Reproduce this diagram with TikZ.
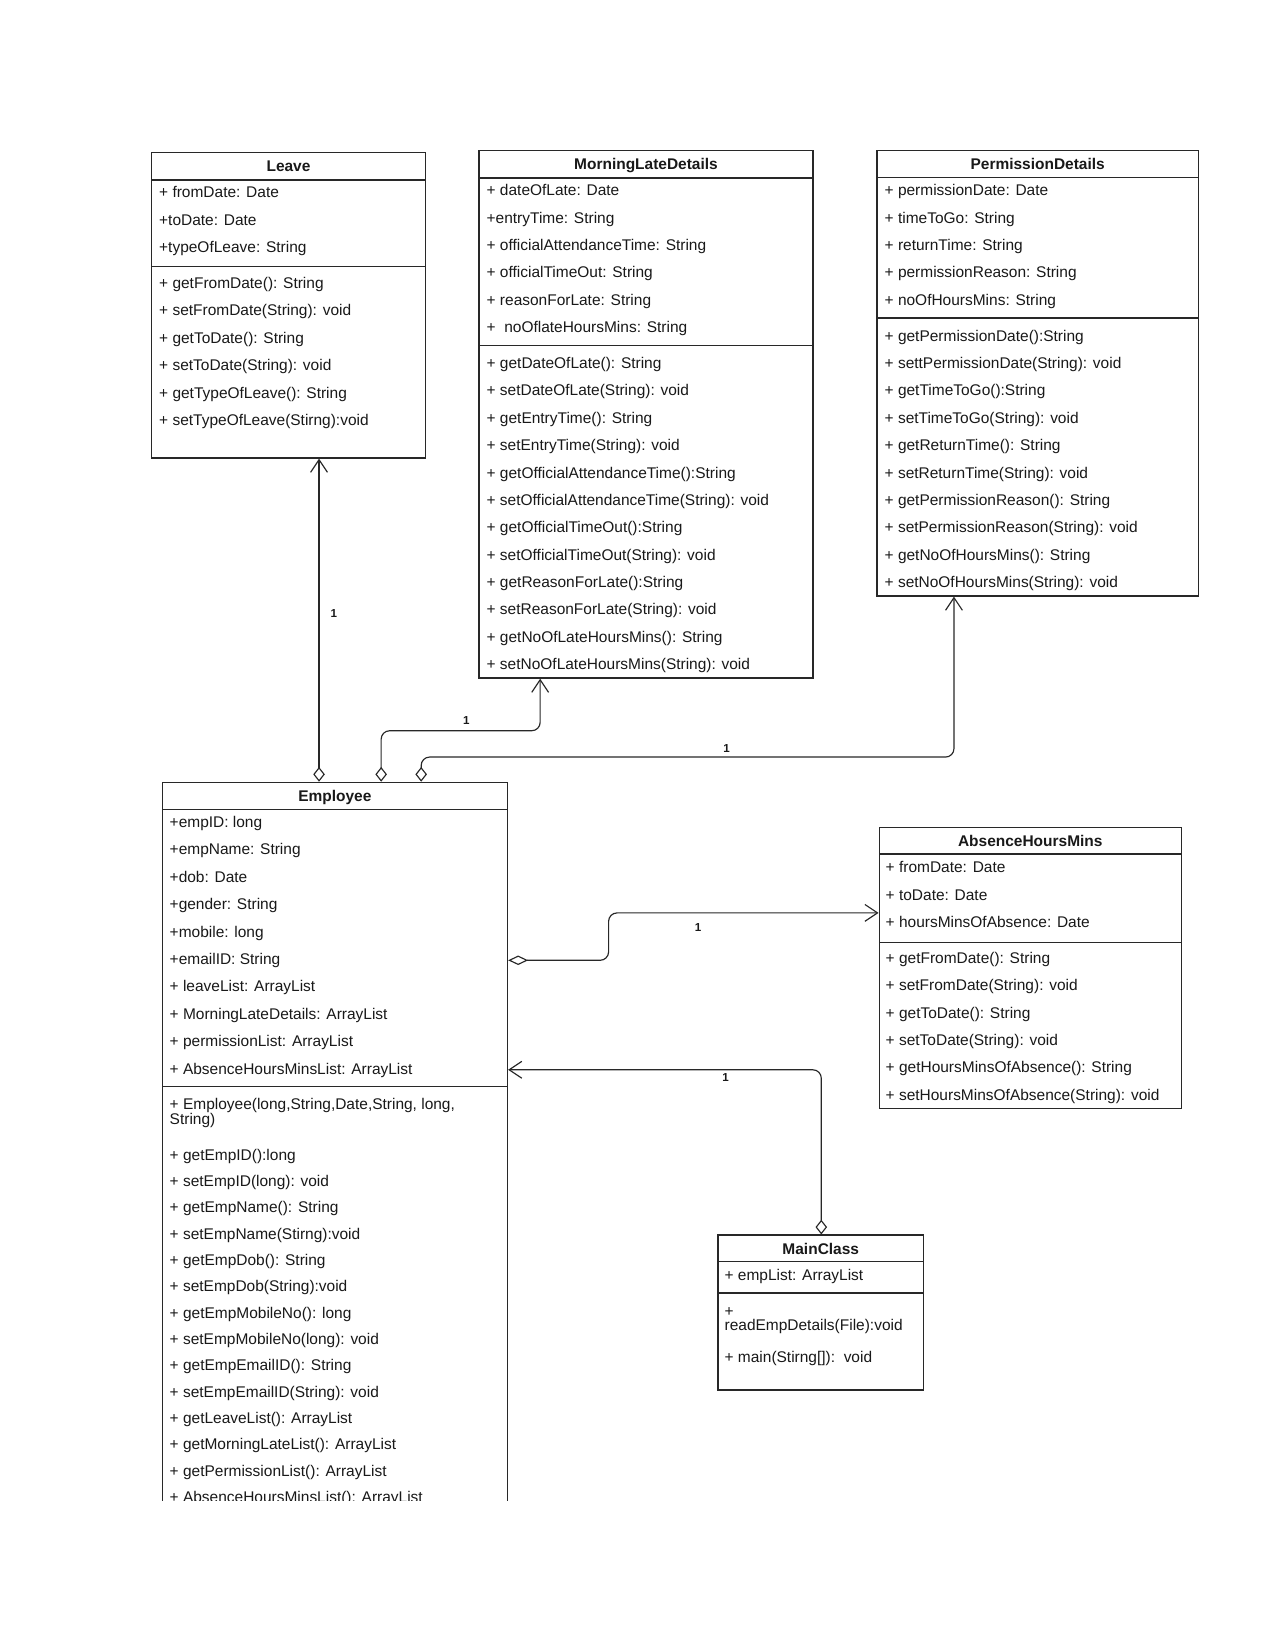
\documentclass[tikz,border=0pt]{standalone}
\usepackage{fontspec}
\setmainfont{Liberation Sans}
\usetikzlibrary{arrows.meta, positioning}
\definecolor{umlline}{RGB}{40,40,40}
\definecolor{umltext}{RGB}{25,25,25}

\begin{document}
\begin{tikzpicture}[x=1pt, y=-1pt,
  every node/.style={font=\fontsize{14.7}{17}\selectfont, text=umltext, inner sep=0pt},
  classbox/.style={draw=umlline, line width=1.2pt, fill=white},
  divider/.style={draw=umlline, line width=1.2pt},
  classtitle/.style={font=\fontsize{14.7}{17}\selectfont\bfseries, anchor=base},
  member/.style={anchor=base west},
  mult/.style={font=\fontsize{11}{13}\selectfont\bfseries, anchor=base},
  assoc/.style={draw=umlline, line width=1.1pt, rounded corners=8pt,
    {Diamond[open, length=14pt, width=11pt]}-{Straight Barb[length=12pt, width=16pt]}},
  flatdiamond/.style={{Diamond[open, length=19pt, width=9pt]}-{Straight Barb[length=12pt, width=16pt]}}]
  % Page
  \useasboundingbox (0,0) rectangle (1211,1568);
  \fill[white] (0,0) rectangle (1211,1568);
  % Leave
  \node[classbox, minimum width=260pt, minimum height=290pt] (leave) at (274,290) {};
  \draw[divider] (144,171) -- (404,171);
  \draw[divider] (144,253) -- (404,253);
  \node[classtitle] (leave-name) at (274,163) {Leave};
  \foreach \t [count=\i from 0] in {{+ fromDate: Date}, {+toDate: Date}, {+typeOfLeave: String}}
    \node[member] (leave-a\i) at (151, 188+26*\i) {\t};
  \foreach \t [count=\i from 0] in {{+ getFromDate(): String}, {+ setFromDate(String): void},
      {+ getToDate(): String}, {+ setToDate(String): void}, {+ getTypeOfLeave(): String},
      {+ setTypeOfLeave(Stirng):void}}
    \node[member] (leave-m\i) at (151, 274+26*\i) {\t};
  % MorningLateDetails
  \node[classbox, minimum width=317pt, minimum height=501pt] (mld) at (613.5,393.5) {};
  \draw[divider] (455,169) -- (772,169);
  \draw[divider] (455,328) -- (772,328);
  \node[classtitle] (mld-name) at (613.5,161) {MorningLateDetails};
  \foreach \t [count=\i from 0] in {{+ dateOfLate: Date}, {+entryTime: String},
      {+ officialAttendanceTime: String}, {+ officialTimeOut: String},
      {+ reasonForLate: String}, {+\ \ noOflateHoursMins: String}}
    \node[member] (mld-a\i) at (462, 186+26*\i) {\t};
  \foreach \t [count=\i from 0] in {{+ getDateOfLate(): String}, {+ setDateOfLate(String): void},
      {+ getEntryTime(): String}, {+ setEntryTime(String): void},
      {+ getOfficialAttendanceTime():String}, {+ setOfficialAttendanceTime(String): void},
      {+ getOfficialTimeOut():String}, {+ setOfficialTimeOut(String): void},
      {+ getReasonForLate():String}, {+ setReasonForLate(String): void},
      {+ getNoOfLateHoursMins(): String}, {+ setNoOfLateHoursMins(String): void}}
    \node[member] (mld-m\i) at (462, 350+26*\i) {\t};
  % PermissionDetails
  \node[classbox, minimum width=305pt, minimum height=423pt] (pd) at (985.5,354.5) {};
  \draw[divider] (833,168.5) -- (1138,168.5);
  \draw[divider] (833,302) -- (1138,302);
  \node[classtitle] (pd-name) at (985.5,161) {PermissionDetails};
  \foreach \t [count=\i from 0] in {{+ permissionDate: Date}, {+ timeToGo: String},
      {+ returnTime: String}, {+ permissionReason: String}, {+ noOfHoursMins: String}}
    \node[member] (pd-a\i) at (840, 186+26*\i) {\t};
  \foreach \t [count=\i from 0] in {{+ getPermissionDate():String}, {+ settPermissionDate(String): void},
      {+ getTimeToGo():String}, {+ setTimeToGo(String): void},
      {+ getReturnTime(): String}, {+ setReturnTime(String): void},
      {+ getPermissionReason(): String}, {+ setPermissionReason(String): void},
      {+ getNoOfHoursMins(): String}, {+ setNoOfHoursMins(String): void}}
    \node[member] (pd-m\i) at (840, 324+26*\i) {\t};
  % Employee (cut off at the page bottom)
  \begin{scope}
    \clip (0,0) rectangle (1211,1425);
    \node[classbox, minimum width=328pt, minimum height=757pt] (emp) at (318,1121.5) {};
    \draw[divider] (154,769) -- (482,769);
    \draw[divider] (154,1032) -- (482,1032);
    \node[classtitle] (emp-name) at (318,761) {Employee};
    \foreach \t [count=\i from 0] in {{+empID: long}, {+empName: String}, {+dob: Date},
        {+gender: String}, {+mobile: long}, {+emailID: String}, {+ leaveList: ArrayList},
        {+ MorningLateDetails: ArrayList}, {+ permissionList: ArrayList},
        {+ AbsenceHoursMinsList: ArrayList}}
      \node[member] (emp-a\i) at (161, 786+26*\i) {\t};
    \node[member] (emp-c0) at (161,1054) {+ Employee(long,String,Date,String, long,};
    \node[member] (emp-c1) at (161,1068) {String)};
    \foreach \t [count=\i from 0] in {{+ getEmpID():long}, {+ setEmpID(long): void},
        {+ getEmpName(): String}, {+ setEmpName(Stirng):void},
        {+ getEmpDob(): String}, {+ setEmpDob(String):void},
        {+ getEmpMobileNo(): long}, {+ setEmpMobileNo(long): void},
        {+ getEmpEmailID(): String}, {+ setEmpEmailID(String): void},
        {+ getLeaveList(): ArrayList}, {+ getMorningLateList(): ArrayList},
        {+ getPermissionList(): ArrayList}, {+ AbsenceHoursMinsList(): ArrayList}}
      \node[member] (emp-m\i) at (161, 1102+25*\i) {\t};
  \end{scope}
  % AbsenceHoursMins
  \node[classbox, minimum width=287pt, minimum height=267pt] (ahm) at (978.5,919.5) {};
  \draw[divider] (835,811) -- (1122,811);
  \draw[divider] (835,895) -- (1122,895);
  \node[classtitle] (ahm-name) at (978.5,804) {AbsenceHoursMins};
  \foreach \t [count=\i from 0] in {{+ fromDate: Date}, {+ toDate: Date}, {+ hoursMinsOfAbsence: Date}}
    \node[member] (ahm-a\i) at (841, 829+26*\i) {\t};
  \foreach \t [count=\i from 0] in {{+ getFromDate(): String}, {+ setFromDate(String): void},
      {+ getToDate(): String}, {+ setToDate(String): void},
      {+ getHoursMinsOfAbsence(): String}, {+ setHoursMinsOfAbsence(String): void}}
    \node[member] (ahm-m\i) at (841, 915+26*\i) {\t};
  % MainClass
  \node[classbox, minimum width=195pt, minimum height=147pt] (main) at (779.5,1246.5) {};
  \draw[divider] (682,1198) -- (877,1198);
  \draw[divider] (682,1228) -- (877,1228);
  \node[classtitle] (main-name) at (779.5,1191) {MainClass};
  \node[member] (main-a0) at (688,1216) {+ empList: ArrayList};
  \node[member] (main-m0) at (688,1250) {+};
  \node[member] (main-m1) at (688,1264) {readEmpDetails(File):void};
  \node[member] (main-m2) at (688,1294) {+ main(Stirng[]):\ \ void};
  % Associations
  \draw[assoc] (emp.north -| 303,0) -- (leave.south -| 303,0);
  \draw[assoc] (emp.north -| 362,0) -- (362,694) -- (513,694) -- (mld.south -| 513,0);
  \draw[assoc] (emp.north -| 400,0) -- (400,719) -- (906,719) -- (pd.south -| 906,0);
  \draw[assoc, flatdiamond] (emp.east |- 0,912) -- (578,912) -- (578,867) -- (ahm.west |- 0,867);
  \draw[assoc] (main.north -| 780,0) -- (780,1016) -- (emp.east |- 0,1016);
  % Multiplicities
  \node[mult] (m-leave) at (317,586) {1};
  \node[mult] (m-mld) at (443,688) {1};
  \node[mult] (m-pd) at (690,715) {1};
  \node[mult] (m-ahm) at (663,885) {1};
  \node[mult] (m-main) at (689,1027) {1};
\end{tikzpicture}
\end{document}
